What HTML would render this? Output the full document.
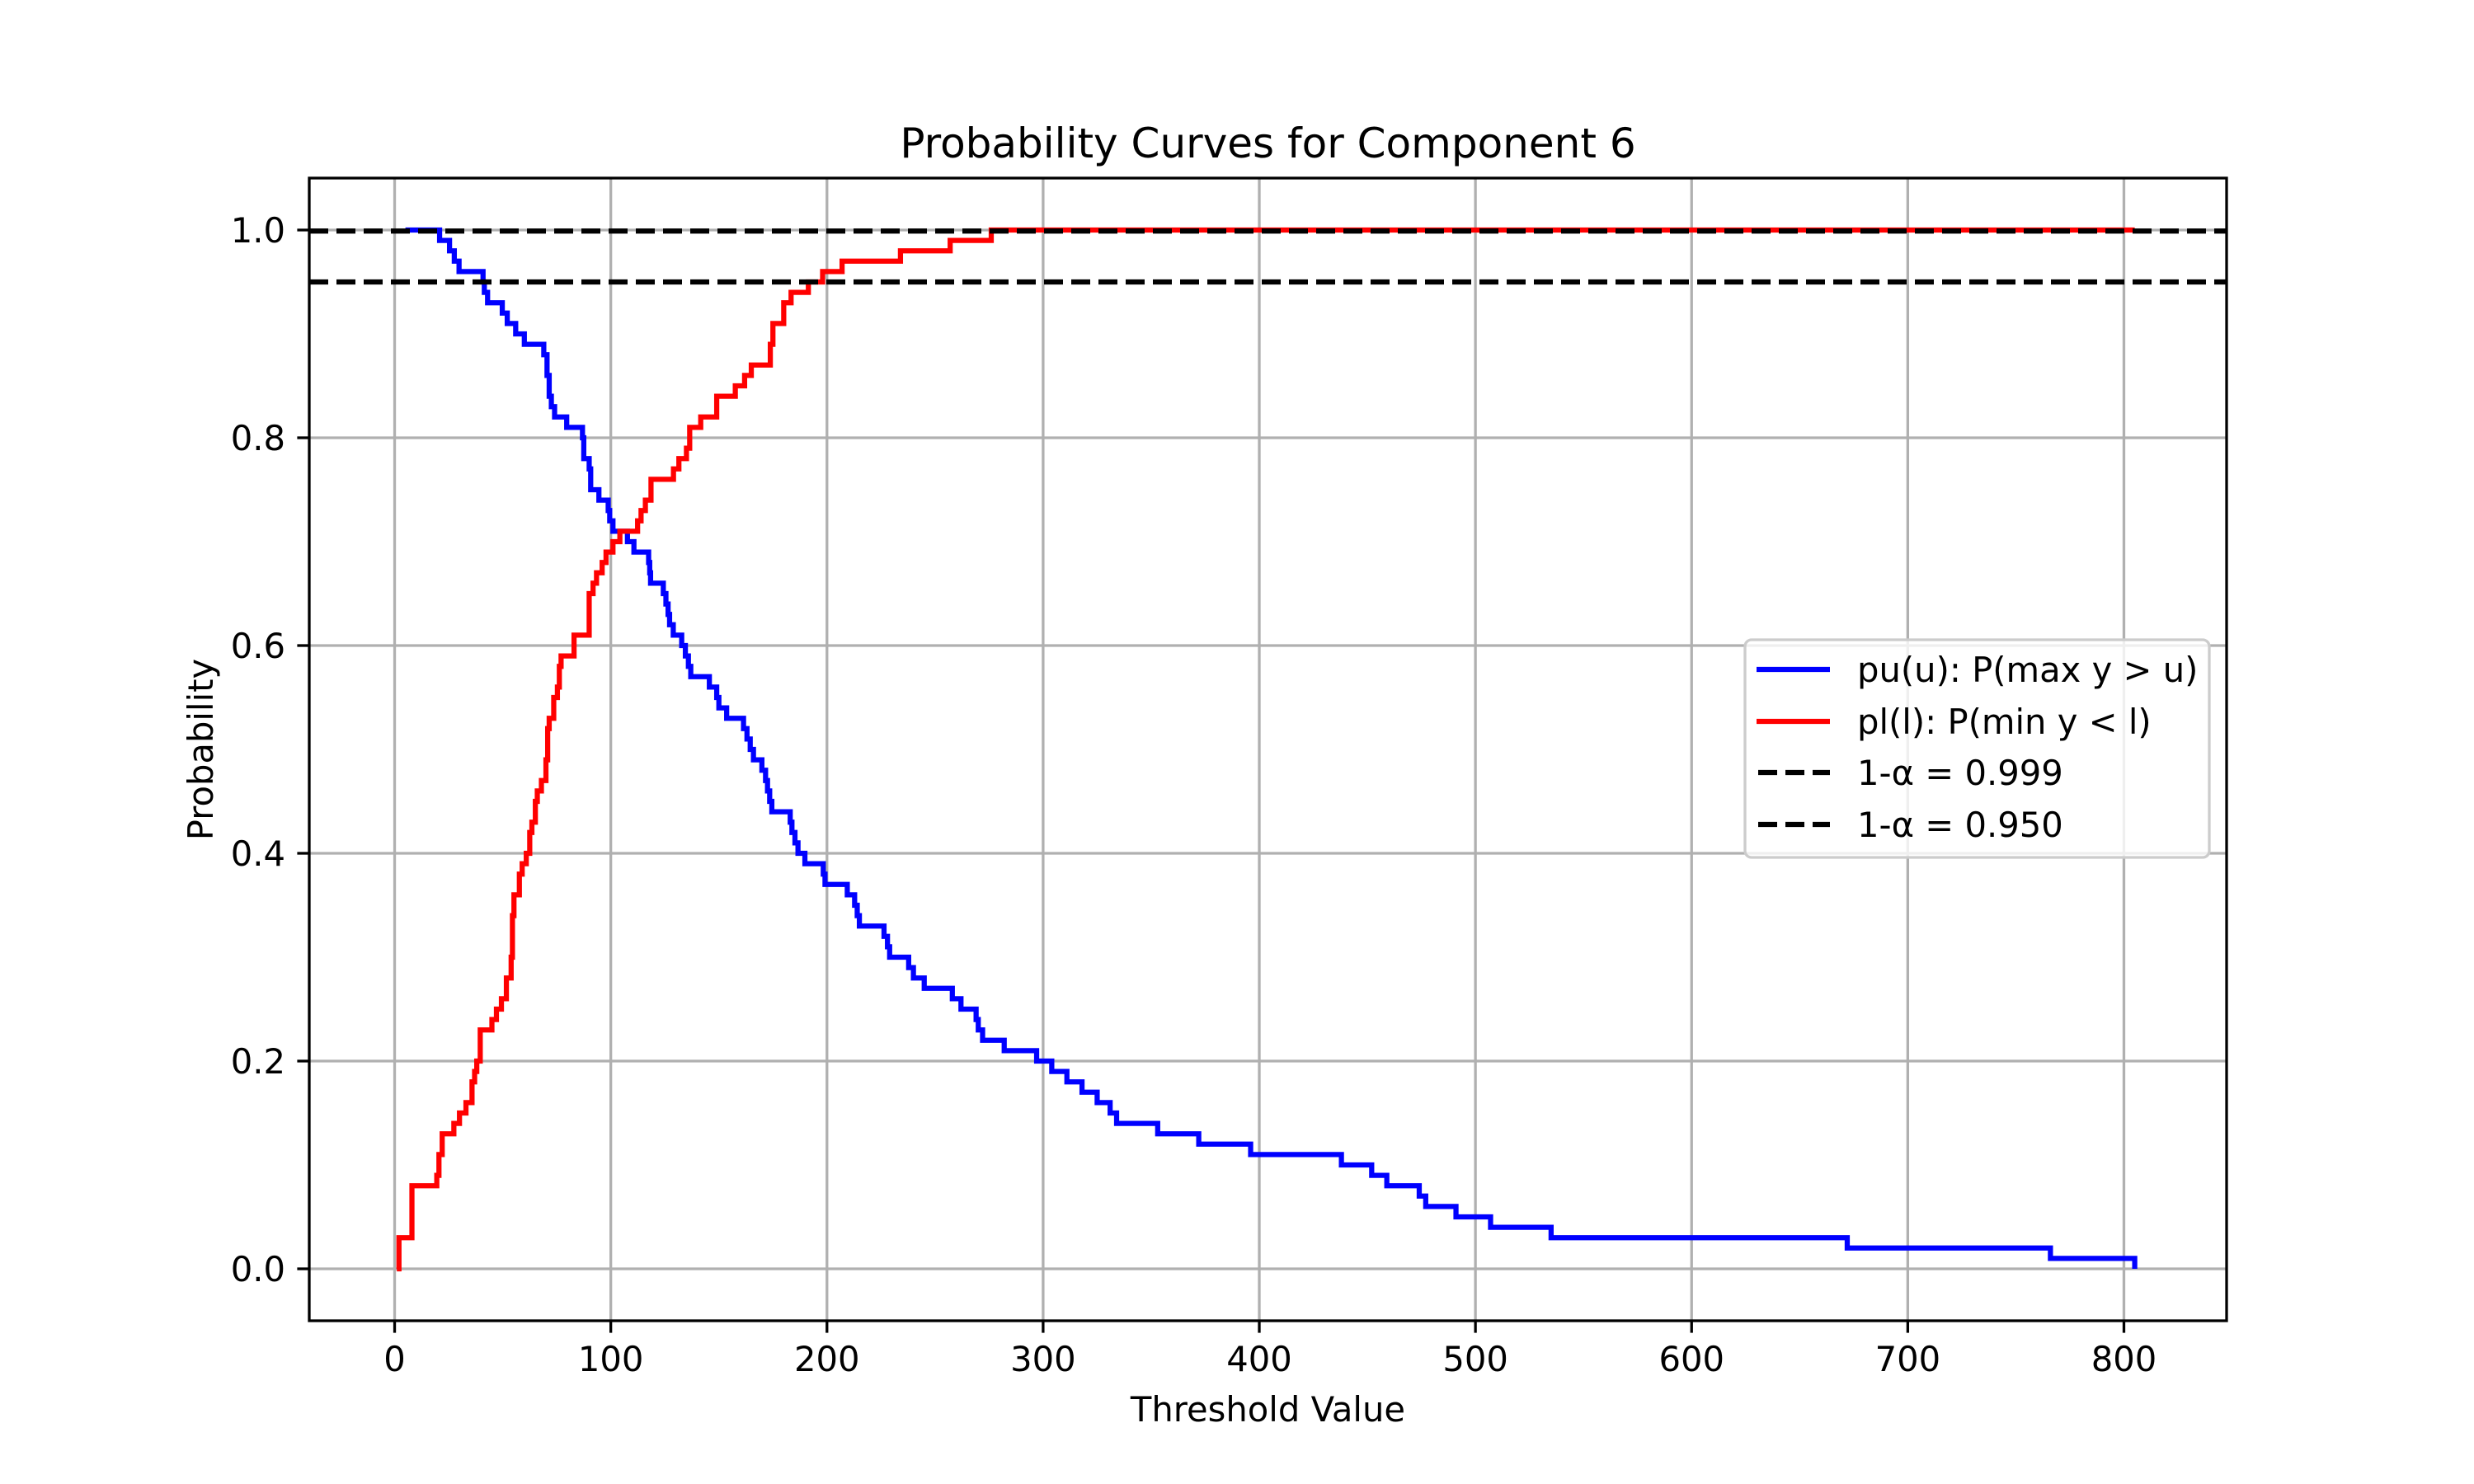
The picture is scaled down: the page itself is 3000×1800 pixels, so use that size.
<!DOCTYPE html>
<html><head><meta charset="utf-8"><style>
html,body{margin:0;padding:0;background:#fff;}
svg{display:block;font-family:"DejaVu Sans","Liberation Sans",sans-serif;}
</style></head><body>
<svg id="chart" width="3000" height="1800" viewBox="0 0 3000 1800" xmlns="http://www.w3.org/2000/svg">
<rect width="3000" height="1800" fill="#fff"/>
<g id="grid"></g>
<g id="series"></g>
<rect x="375" y="216" width="2325" height="1386" fill="none" stroke="#000" stroke-width="3.3"/>
<g id="ticks"></g>
<text x="1537.5" y="191" font-size="50" text-anchor="middle">Probability Curves for Component 6</text>
<text x="1537.5" y="1724" font-size="41.7" text-anchor="middle">Threshold Value</text>
<text x="0" y="0" font-size="41.7" text-anchor="middle" transform="translate(258,909) rotate(-90)">Probability</text>
<g>
<rect x="2116" y="776" width="563" height="264" rx="8" fill="#fff" fill-opacity="0.8" stroke="#ccc" stroke-width="3.3"/>
<line x1="2130" y1="812" x2="2219" y2="812" stroke="#0000ff" stroke-width="6.25"/>
<text x="2252" y="827" font-size="41.7">pu(u): P(max y &gt; u)</text>
<line x1="2130" y1="875" x2="2219" y2="875" stroke="#ff0000" stroke-width="6.25"/>
<text x="2252" y="890" font-size="41.7">pl(l): P(min y &lt; l)</text>
<line x1="2132" y1="937" x2="2219" y2="937" stroke="#000" stroke-width="6.25" stroke-dasharray="23,10"/>
<text x="2252" y="952" font-size="41.7">1-α = 0.999</text>
<line x1="2132" y1="1000" x2="2219" y2="1000" stroke="#000" stroke-width="6.25" stroke-dasharray="23,10"/>
<text x="2252" y="1015" font-size="41.7">1-α = 0.950</text>
</g>
</svg>
<script>
const xTicks = [0,100,200,300,400,500,600,700,800];
const yTicks = [0.0,0.2,0.4,0.6,0.8,1.0];
const yTickLabels = ["0.0","0.2","0.4","0.6","0.8","1.0"];
const thresholds = [0.999,0.95];
const puX = [5,20.8,25.4,27.6,29.8,40.9,41.5,43,49.8,52.1,56,60,69,70.5,71.5,72.5,74,79.6,86.9,87.5,90,90.7,94.5,98.8,99.5,101,107.7,110.7,117.5,118,118.4,124.3,125.5,126.5,127.2,128.9,132.8,134.5,135.9,137,145.6,149,150,153.6,161.4,163,164.5,166,169.9,171.6,172.5,173.5,174.5,183,183.8,185.2,186.6,189.8,198.3,199.1,209.4,212.8,214,215,226.4,228,229,237.8,240,245,258,262,269,270,272,282,297,304,311,318,325,331,334,353,372,396,438,452,459,474,477,491,507,535,672,766,805];
const puP = [1.0,0.99,0.98,0.97,0.96,0.95,0.94,0.93,0.92,0.91,0.90,0.89,0.88,0.86,0.84,0.83,0.82,0.81,0.80,0.78,0.77,0.75,0.74,0.73,0.72,0.71,0.70,0.69,0.68,0.67,0.66,0.65,0.64,0.63,0.62,0.61,0.60,0.59,0.58,0.57,0.56,0.55,0.54,0.53,0.52,0.51,0.50,0.49,0.48,0.47,0.46,0.45,0.44,0.43,0.42,0.41,0.40,0.39,0.38,0.37,0.36,0.35,0.34,0.33,0.32,0.31,0.30,0.29,0.28,0.27,0.26,0.25,0.24,0.23,0.22,0.21,0.20,0.19,0.18,0.17,0.16,0.15,0.14,0.13,0.12,0.11,0.10,0.09,0.08,0.07,0.06,0.05,0.04,0.03,0.02,0.01,0.0];
const plX = [1,2,8,19.5,20.5,22,27.4,30,33,35.8,37,38,39.6,45,47.1,49.4,51.7,53.9,54.5,55.2,57.7,59,60.9,62.5,63.5,65.1,66,67.9,70,70.8,71.5,73.6,75.3,76.2,77,83,90,91.8,93.4,96,97.8,101,104.2,112.4,114,116,118.6,129,131.5,135,136.5,141.6,149,157.6,161.9,165,173.8,175,180,183.4,191.4,198,207,234,257,276,805];
const plP = [0.0,0.03,0.08,0.09,0.11,0.13,0.14,0.15,0.16,0.18,0.19,0.20,0.23,0.24,0.25,0.26,0.28,0.30,0.34,0.36,0.38,0.39,0.40,0.42,0.43,0.45,0.46,0.47,0.49,0.52,0.53,0.55,0.56,0.58,0.59,0.61,0.65,0.66,0.67,0.68,0.69,0.70,0.71,0.72,0.73,0.74,0.76,0.77,0.78,0.79,0.81,0.82,0.84,0.85,0.86,0.87,0.89,0.91,0.93,0.94,0.95,0.96,0.97,0.98,0.99,1.0,1.0];

const NS='http://www.w3.org/2000/svg';
const L=375,R=2700,T=216,B=1602,XMIN=-39.5,XMAX=847.5,YMIN=-0.05,YMAX=1.05;
function sx(v){return L+(v-XMIN)/(XMAX-XMIN)*(R-L);}
function sy(v){return B-(v-YMIN)/(YMAX-YMIN)*(B-T);}
function mk(tag,attrs,parent){const e=document.createElementNS(NS,tag);for(const k in attrs)e.setAttribute(k,attrs[k]);parent.appendChild(e);return e;}
const grid=document.getElementById('grid'),ticks=document.getElementById('ticks'),series=document.getElementById('series');
xTicks.forEach(v=>{
  const g=mk('line',{x1:sx(v),x2:sx(v),y1:T,y2:B,stroke:'#b0b0b0','stroke-width':3.3},grid);
  
  
  const t=mk('line',{x1:sx(v),x2:sx(v),y1:B,y2:B+14.6,stroke:'#000','stroke-width':3.3},ticks);
  
  
  const lb=mk('text',{x:sx(v),y:B+61,'font-size':41.7,'text-anchor':'middle'},ticks);
  lb.textContent=String(v);
  
  
});
yTicks.forEach((v,i)=>{
  const g=mk('line',{x1:L,x2:R,y1:sy(v),y2:sy(v),stroke:'#b0b0b0','stroke-width':3.3},grid);
  
  
  const t=mk('line',{x1:L-14.6,x2:L,y1:sy(v),y2:sy(v),stroke:'#000','stroke-width':3.3},ticks);
  
  
  const lb=mk('text',{x:L-29,y:sy(v)+15,'font-size':41.7,'text-anchor':'end'},ticks);
  lb.textContent=yTickLabels[i];
  
  
});
function stepPath(xs,ps){let d='M'+sx(xs[0])+','+sy(ps[0]);for(let i=1;i<xs.length;i++){d+=' L'+sx(xs[i])+','+sy(ps[i-1])+' L'+sx(xs[i])+','+sy(ps[i]);}return d;}
const pu=mk('path',{d:stepPath(puX,puP),fill:'none',stroke:'#0000ff','stroke-width':6.25,'stroke-linejoin':'miter'},series);


const pl=mk('path',{d:stepPath(plX,plP),fill:'none',stroke:'#ff0000','stroke-width':6.25,'stroke-linejoin':'miter'},series);


thresholds.forEach(v=>{
  const h=mk('line',{x1:L,x2:R,y1:sy(v),y2:sy(v),stroke:'#000','stroke-width':6.25,'stroke-dasharray':'23,10'},series);
  
  
});
</script>
</body></html>
